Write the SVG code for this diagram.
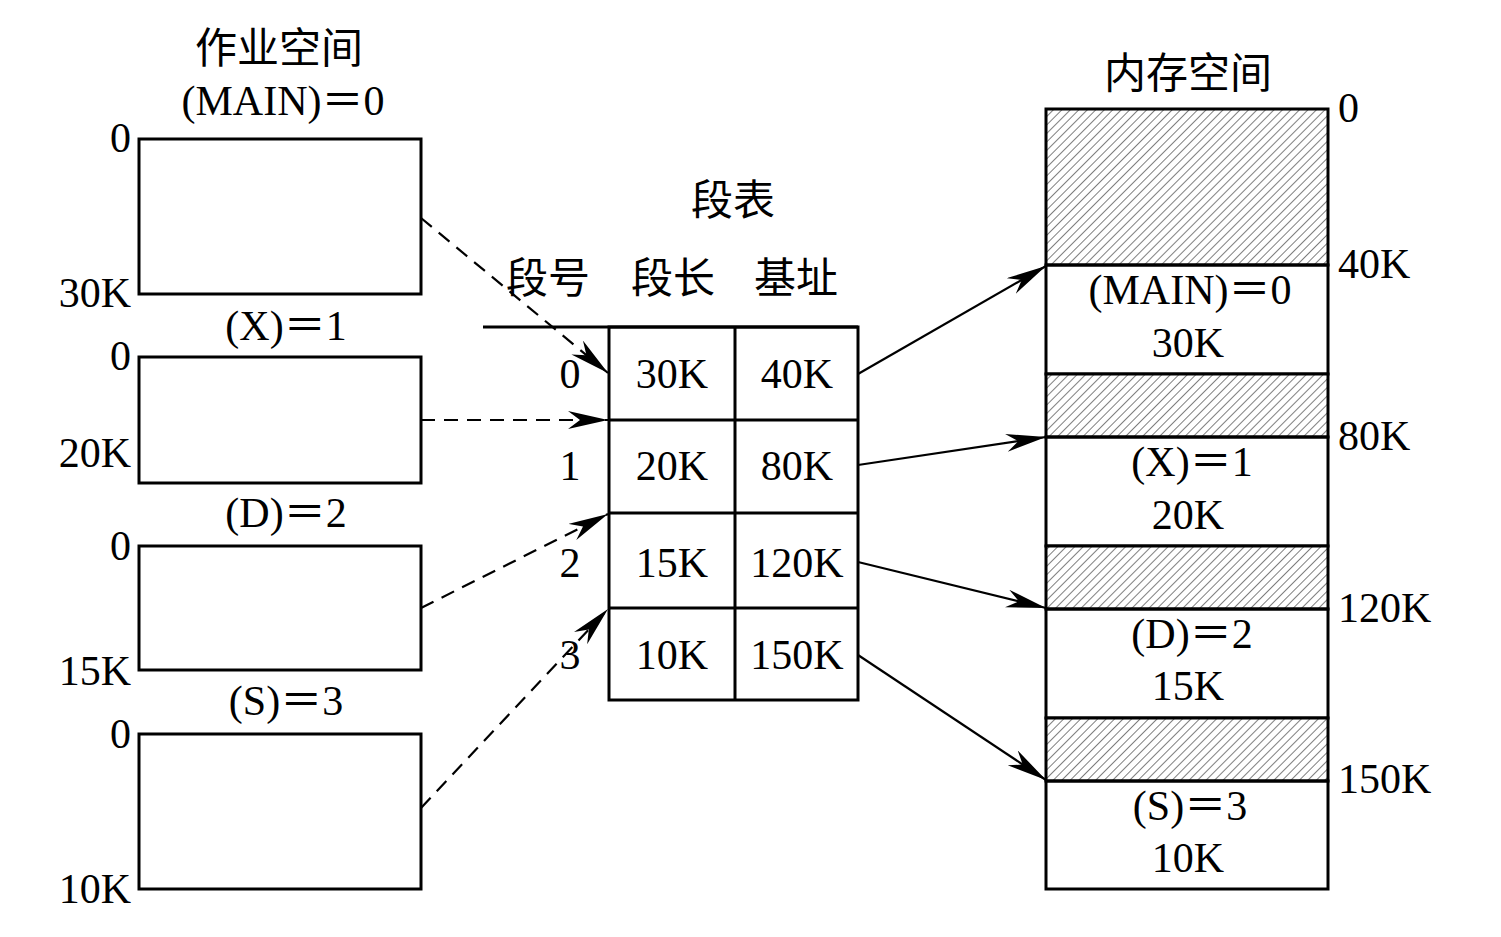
<svg xmlns="http://www.w3.org/2000/svg" width="1501" height="937" viewBox="0 0 1501 937">
<style>
text{font-family:"Liberation Serif","Noto Sans CJK SC",serif;font-size:42px;fill:#000}
.c{text-anchor:middle}
.r{text-anchor:end}
.box{fill:none;stroke:#000;stroke-width:3}
.hatch{fill:url(#h);stroke:#000;stroke-width:3}
.dash{fill:none;stroke:#000;stroke-width:2.2;stroke-dasharray:14,9}
.solid{fill:none;stroke:#000;stroke-width:2.2}
</style>
<defs>
<pattern id="h" patternUnits="userSpaceOnUse" width="6" height="6" patternTransform="rotate(45)">
<rect width="6" height="6" fill="#fff"/>
<line x1="0" y1="0" x2="0" y2="6" stroke="#000" stroke-width="1"/>
</pattern>
<marker id="a" markerUnits="userSpaceOnUse" markerWidth="44" markerHeight="20" refX="40" refY="9" orient="auto">
<path d="M0,0 L40,9 L0,18 L12,9 z" fill="#000"/>
</marker>
</defs>
<rect width="1501" height="937" fill="#fff"/>

<g id="job-space">
<text class="c" x="279" y="63">作业空间</text>
<g id="seg-main">
<text class="c" x="283" y="115">(MAIN)＝0</text>
<rect class="box" x="139" y="139" width="282" height="155"/>
<text class="r" x="131" y="152">0</text>
<text class="r" x="131" y="307">30K</text>
</g>
<g id="seg-x">
<text class="c" x="286" y="340">(X)＝1</text>
<rect class="box" x="139" y="357" width="282" height="126"/>
<text class="r" x="131" y="370">0</text>
<text class="r" x="131" y="467">20K</text>
</g>
<g id="seg-d">
<text class="c" x="286" y="527">(D)＝2</text>
<rect class="box" x="139" y="546" width="282" height="124"/>
<text class="r" x="131" y="560">0</text>
<text class="r" x="131" y="685">15K</text>
</g>
<g id="seg-s">
<text class="c" x="286" y="715">(S)＝3</text>
<rect class="box" x="139" y="734" width="282" height="155"/>
<text class="r" x="131" y="748">0</text>
<text class="r" x="131" y="903">10K</text>
</g>
</g>

<g id="segment-table">
<text class="c" x="733" y="215">段表</text>
<text class="c" x="548" y="293">段号</text>
<text class="c" x="673" y="293">段长</text>
<text class="c" x="796" y="293">基址</text>
<line class="box" x1="483" y1="327" x2="858" y2="327"/>
<rect class="box" x="609" y="327" width="249" height="373"/>
<line class="box" x1="735" y1="327" x2="735" y2="700"/>
<line class="box" x1="609" y1="420" x2="858" y2="420"/>
<line class="box" x1="609" y1="513" x2="858" y2="513"/>
<line class="box" x1="609" y1="608" x2="858" y2="608"/>
<text class="c" x="570" y="388">0</text>
<text class="c" x="570" y="480">1</text>
<text class="c" x="570" y="577">2</text>
<text class="c" x="570" y="669">3</text>
<text class="c" x="672" y="388">30K</text>
<text class="c" x="797" y="388">40K</text>
<text class="c" x="672" y="480">20K</text>
<text class="c" x="797" y="480">80K</text>
<text class="c" x="672" y="577">15K</text>
<text class="c" x="797" y="577">120K</text>
<text class="c" x="672" y="669">10K</text>
<text class="c" x="797" y="669">150K</text>
</g>

<g id="memory-space">
<text class="c" x="1188" y="88">内存空间</text>
<rect class="hatch" x="1046" y="109" width="282" height="156"/>
<rect class="box" x="1046" y="265" width="282" height="109"/>
<rect class="hatch" x="1046" y="374" width="282" height="63"/>
<rect class="box" x="1046" y="437" width="282" height="109"/>
<rect class="hatch" x="1046" y="546" width="282" height="63"/>
<rect class="box" x="1046" y="609" width="282" height="109"/>
<rect class="hatch" x="1046" y="718" width="282" height="63"/>
<rect class="box" x="1046" y="781" width="282" height="108"/>
<text x="1338" y="122">0</text>
<text x="1338" y="278">40K</text>
<text x="1338" y="450">80K</text>
<text x="1338" y="622">120K</text>
<text x="1338" y="793">150K</text>
<text class="c" x="1190" y="304">(MAIN)＝0</text>
<text class="c" x="1188" y="357">30K</text>
<text class="c" x="1192" y="476">(X)＝1</text>
<text class="c" x="1188" y="529">20K</text>
<text class="c" x="1192" y="648">(D)＝2</text>
<text class="c" x="1188" y="700">15K</text>
<text class="c" x="1190" y="820">(S)＝3</text>
<text class="c" x="1188" y="872">10K</text>
</g>

<g id="connectors">
<line class="dash" x1="421" y1="218" x2="608" y2="373" marker-end="url(#a)"/>
<line class="dash" x1="421" y1="420" x2="608" y2="420" marker-end="url(#a)"/>
<line class="dash" x1="421" y1="608" x2="608" y2="514" marker-end="url(#a)"/>
<line class="dash" x1="421" y1="808" x2="608" y2="609" marker-end="url(#a)"/>
<line class="solid" x1="858" y1="374" x2="1046" y2="266" marker-end="url(#a)"/>
<line class="solid" x1="858" y1="465" x2="1046" y2="437" marker-end="url(#a)"/>
<line class="solid" x1="858" y1="562" x2="1046" y2="608" marker-end="url(#a)"/>
<line class="solid" x1="858" y1="655" x2="1046" y2="780" marker-end="url(#a)"/>
</g>
</svg>
